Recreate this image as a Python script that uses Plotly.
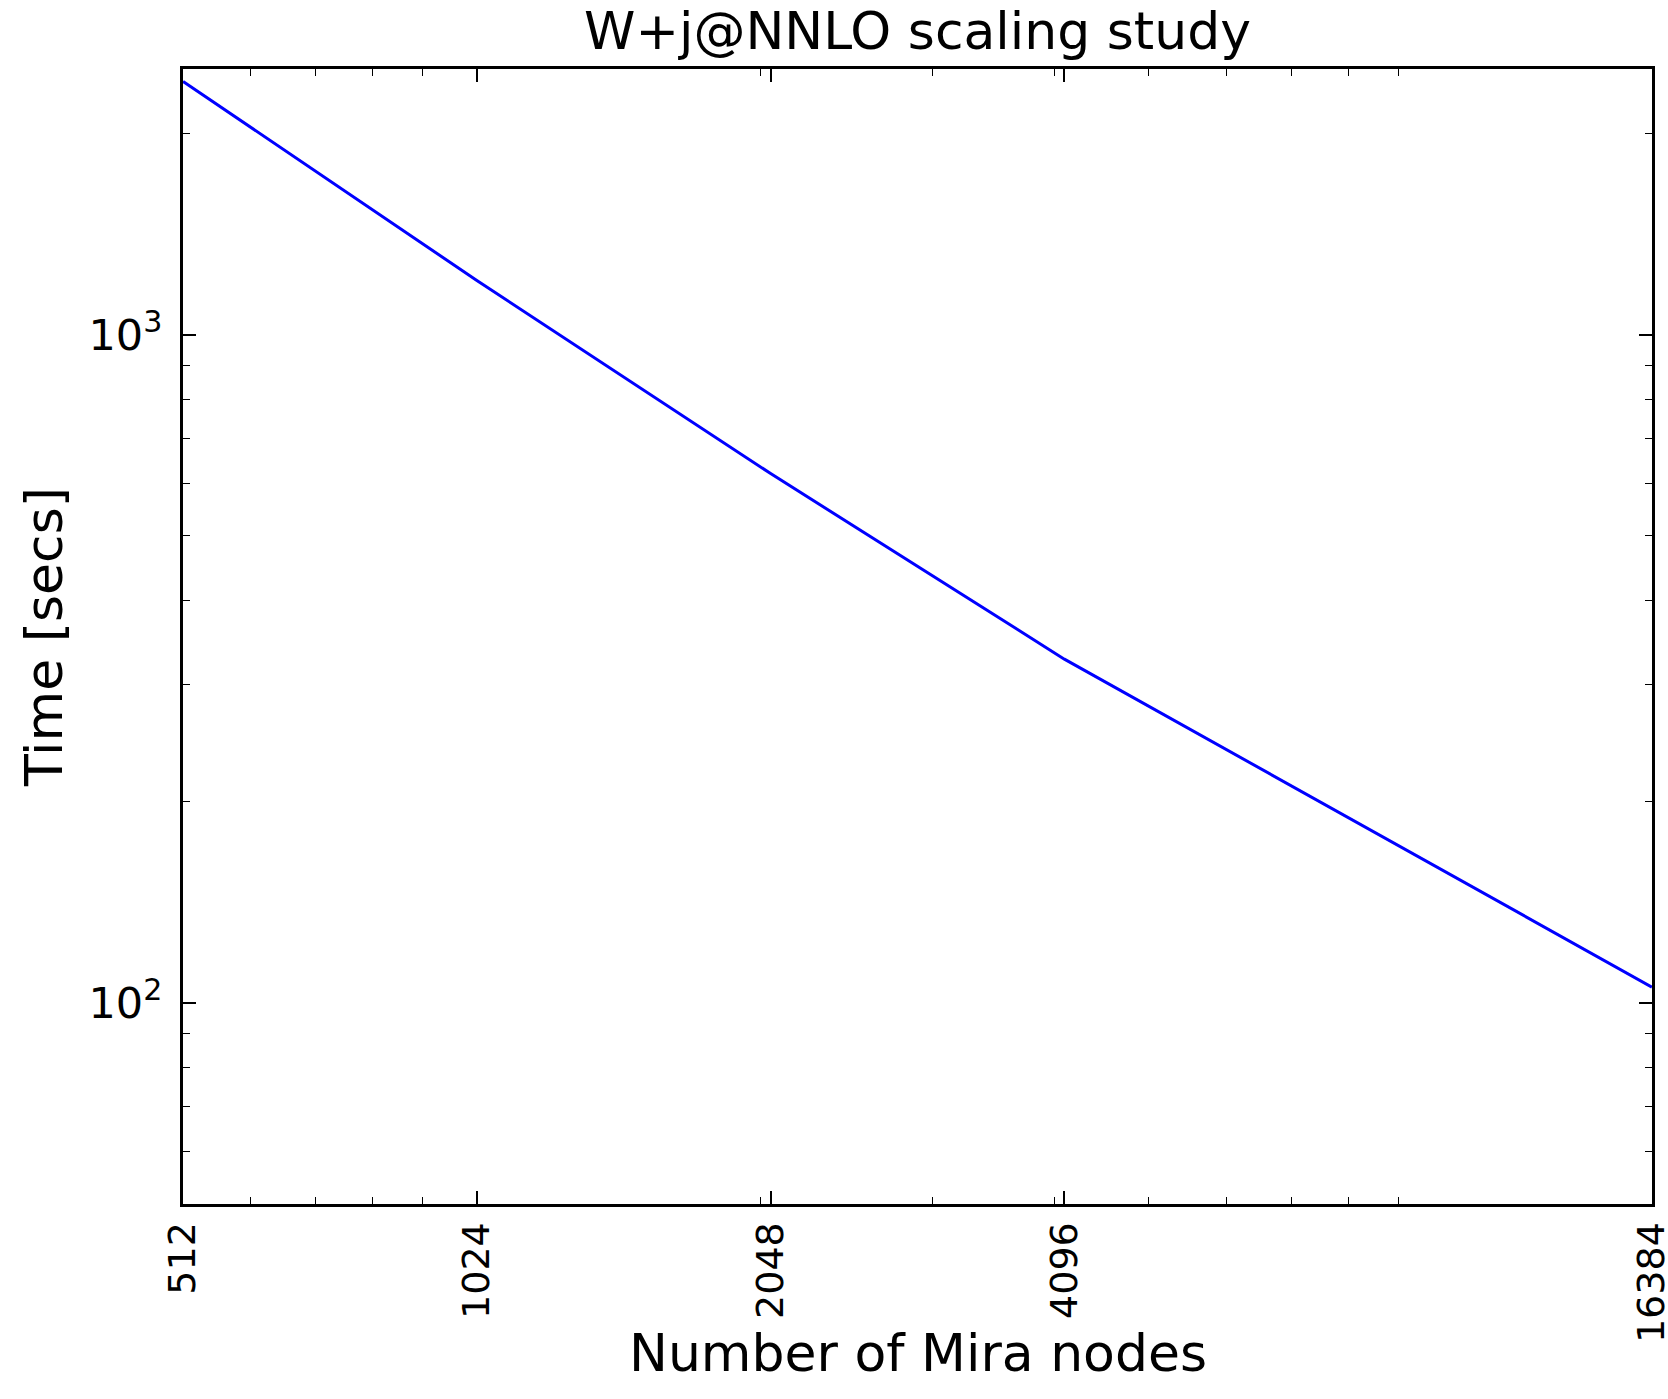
import math
import plotly.graph_objects as go

nodes = [512, 1024, 2048, 4096, 16384]
times = [2395, 1206, 620, 327, 105.6]

x_tick_vals = [512, 1024, 2048, 4096, 16384]
x_tick_text = ["512", "1024", "2048", "4096", "16384"]
x_minor_vals = [600, 700, 800, 900, 2000, 3000, 4000, 5000, 6000, 7000, 8000, 9000]
y_tick_vals = [100, 1000]
y_tick_text = ["10<sup>2</sup>", "10<sup>3</sup>"]
y_minor_vals = [60, 70, 80, 90, 200, 300, 400, 500, 600, 700, 800, 900, 2000]

title_text = "W+j@NNLO scaling study"
x_title = "Number of Mira nodes"
y_title = "Time [secs]"

font_family = "DejaVu Sans"
eps = 1e-4

fig = go.Figure()
fig.add_trace(go.Scatter(x=nodes, y=times, mode="lines",
                         line=dict(color="#0000ff", width=3),
                         showlegend=False, cliponaxis=False))

axis_common = dict(
    type="log",
    showgrid=False,
    zeroline=False,
    showline=True,
    linecolor="black",
    linewidth=3,
    mirror="allticks",
    ticks="inside",
    ticklen=13,
    tickwidth=1.5,
    tickcolor="black",
    ticklabeloverflow="allow",
    automargin=False,
)

fig.update_layout(
    width=1668,
    height=1399,
    paper_bgcolor="white",
    plot_bgcolor="white",
    margin=dict(l=183, r=16, t=69, b=195),
    title=dict(text=title_text,
               font=dict(family=font_family, size=52, color="black"),
               x=0.5, xanchor="center", xref="paper",
               y=1.0, yanchor="bottom", yref="paper", pad=dict(b=20)),
    xaxis=dict(
        **axis_common,
        range=[math.log10(512) - eps, math.log10(16384) + eps],
        tickmode="array",
        tickvals=x_tick_vals,
        ticktext=x_tick_text,
        tickangle=-90,
        tickfont=dict(family=font_family, size=38, color="black"),
        minor=dict(tickmode="array", tickvals=x_minor_vals, ticks="inside",
                   ticklen=7, tickwidth=1.2, tickcolor="black"),
    ),
    yaxis=dict(
        **axis_common,
        range=[math.log10(50), math.log10(2500)],
        tickmode="array",
        tickvals=y_tick_vals,
        ticktext=y_tick_text,
        tickfont=dict(family=font_family, size=43, color="black"),
        ticklabelstandoff=9,
        minor=dict(tickmode="array", tickvals=y_minor_vals, ticks="inside",
                   ticklen=7, tickwidth=1.2, tickcolor="black"),
        title=dict(text=y_title,
                   font=dict(family=font_family, size=52, color="black"),
                   standoff=10),
    ),
    annotations=[dict(
        text=x_title, xref="paper", yref="paper", x=0.5, y=-0.131,
        xanchor="center", yanchor="middle", showarrow=False,
        font=dict(family=font_family, size=52, color="black"),
    )],
)

fig.write_html("out.html")
